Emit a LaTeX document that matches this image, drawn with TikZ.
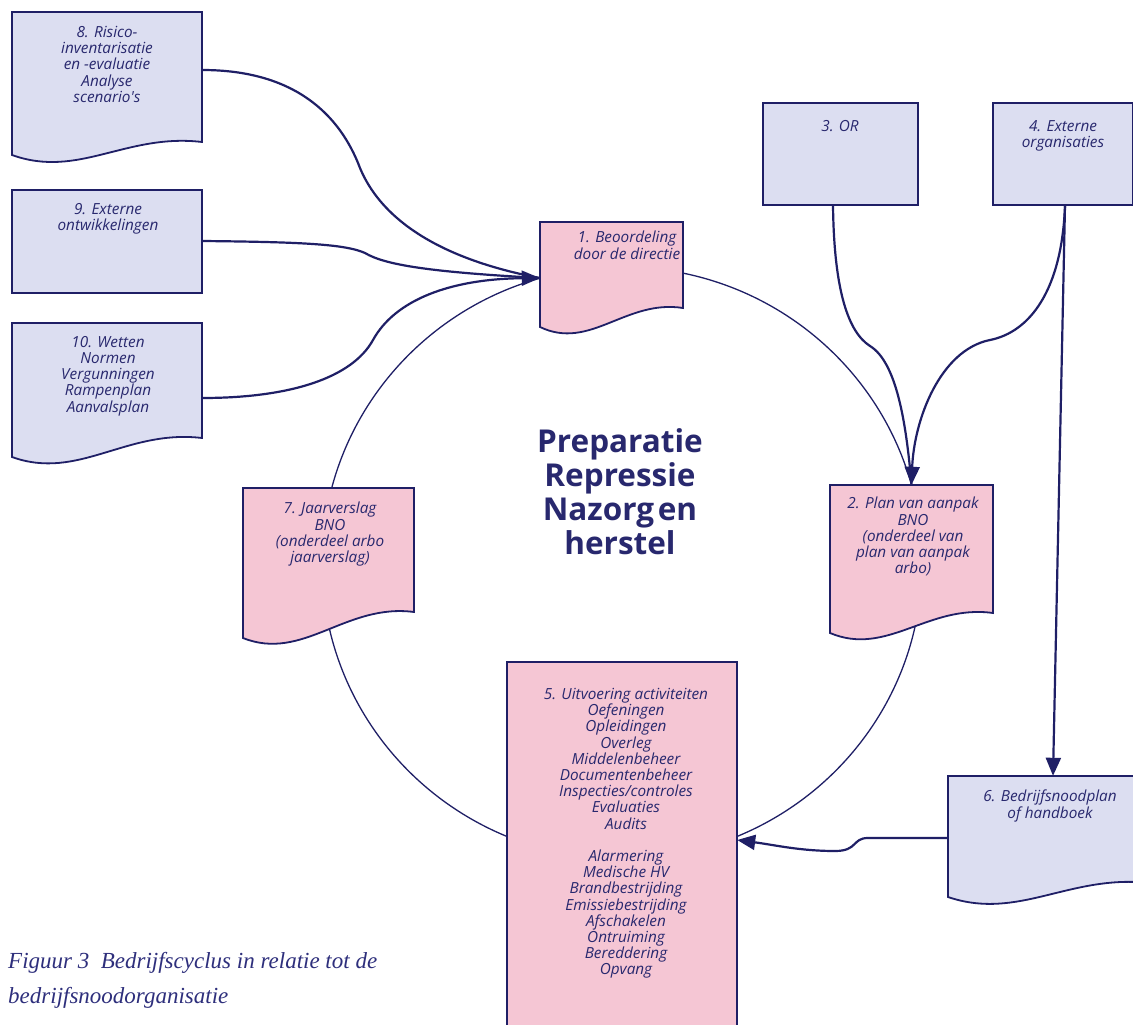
\documentclass[tikz,border=0pt]{standalone}
\usepackage{fontspec}
\setmainfont{Liberation Serif}
\newfontfamily\boxfont{Open Sans}
\usetikzlibrary{arrows.meta}
\definecolor{navy}{HTML}{1F1F66}
\definecolor{textnavy}{HTML}{28286E}
\definecolor{capnavy}{HTML}{2E2F7C}
\definecolor{bluefill}{HTML}{DCDEF1}
\definecolor{pinkfill}{HTML}{F5C6D4}
% x1,y1,x2,yl,yr,fill
\newcommand\docshape[6]{%
  \filldraw[boxline, fill=#6] (#1,#2) -- (#3,#2) -- (#3,#5)
    .. controls ({#1+0.6*(#3-#1)},{#5-9}) and ({#1+0.35*(#3-#1)},{#4+24}) .. (#1,#4) -- cycle;}
\tikzset{
  boxline/.style={draw=navy, line width=1.8pt, line join=miter},
  area/.style={inner sep=0pt, draw=none, fill=none},
  btext/.style={font=\boxfont\itshape\fontsize{15.3}{16.2}\selectfont, text=textnavy, align=center, inner sep=0pt, anchor=north},
  conn/.style={draw=navy, line width=2.2pt},
  arr/.style={conn, -{Triangle[length=18pt,width=15pt]}},
  cycleline/.style={draw=navy, line width=1.3pt}
}
\begin{document}
\begin{tikzpicture}[x=1pt,y=-1pt]
\useasboundingbox (0,0) rectangle (1133,1025);
\fill[white] (0,0) rectangle (1133,1025);
\clip (0,0) rectangle (1133,1025);

% cycle
\draw[cycleline] (622,563) ellipse [x radius=300, y radius=296];

% box shapes
\docshape{12}{12}{202}{155}{142}{bluefill}
\filldraw[boxline, fill=bluefill] (12,190) rectangle (202,293);
\docshape{12}{323}{202}{457}{438}{bluefill}
\docshape{540}{222}{683}{327}{308}{pinkfill}
\filldraw[boxline, fill=bluefill] (763,103) rectangle (918,205);
\filldraw[boxline, fill=bluefill] (993,103) rectangle (1133,205);
\docshape{830}{485}{993}{633}{613}{pinkfill}
\docshape{243}{488}{414}{638}{612}{pinkfill}
\filldraw[boxline, fill=pinkfill] (507,662) rectangle (737,1040);
\docshape{948}{776}{1150}{897}{883}{bluefill}

% box areas (named)
\node[area, minimum width=190, minimum height=143] (b8) at (107,83.5) {};
\node[area, minimum width=190, minimum height=103] (b9) at (107,241.5) {};
\node[area, minimum width=190, minimum height=134] (b10) at (107,390) {};
\node[area, minimum width=143, minimum height=100] (b1) at (611.5,272) {};
\node[area, minimum width=155, minimum height=102] (b3) at (840.5,154) {};
\node[area, minimum width=140, minimum height=102] (b4) at (1063,154) {};
\node[area, minimum width=163, minimum height=140] (b2) at (911.5,555) {};
\node[area, minimum width=171, minimum height=140] (b7) at (328.5,558) {};
\node[area, minimum width=230, minimum height=360] (b5) at (622,842) {};
\node[area, minimum width=202, minimum height=114] (b6) at (1049,833) {};

% texts
\node[btext] (t8) at (107,26) {8. Risico-\\inventarisatie\\en -evaluatie\\Analyse\\scenario's};
\node[btext] (t9) at (108,203) {9. Externe\\ontwikkelingen};
\node[btext] (t10) at (108,336) {10. Wetten\\Normen\\Vergunningen\\Rampenplan\\Aanvalsplan};
\node[btext] (t1) at (627,231) {1. Beoordeling\\door de directie};
\node[btext] (t3) at (840,120) {3. OR};
\node[btext] (t4) at (1063,120) {4. Externe\\organisaties};
\node[btext] (t2) at (913,497) {2. Plan van aanpak\\BNO\\(onderdeel van\\plan van aanpak\\arbo)};
\node[btext] (t7) at (330,502) {7. Jaarverslag\\BNO\\(onderdeel arbo\\jaarverslag)};
\node[btext] (t5) at (626,688) {5. Uitvoering activiteiten\\Oefeningen\\Opleidingen\\Overleg\\Middelenbeheer\\Documentenbeheer\\Inspecties/controles\\Evaluaties\\Audits\\[16.2pt]Alarmering\\Medische HV\\Brandbestrijding\\Emissiebestrijding\\Afschakelen\\Ontruiming\\Bereddering\\Opvang};
\node[btext] (t6) at (1050,790) {6. Bedrijfsnoodplan\\of handboek};

\node[font=\boxfont\bfseries\fontsize{31.5}{34}\selectfont, text=textnavy, align=center, inner sep=0pt, anchor=north] (ctr) at (620,428) {Preparatie\\Repressie\\Nazorg\hspace{0.12em}en\\herstel};

\node[font=\itshape\fontsize{23}{35}\selectfont, text=capnavy, align=left, inner sep=0pt, anchor=north west] (cap) at (8,952) {Figuur 3\ \ Bedrijfscyclus in relatie tot de\\bedrijfsnoodorganisatie};

% connection points
\coordinate (tip1) at ([yshift=-6pt]b1.west);
\coordinate (tip2) at (b2.north);
\coordinate (tip5) at ([yshift=2pt]b5.east);
\coordinate (o4) at ([xshift=2pt]b4.south);

% connectors into box 1
\draw[conn] ([yshift=13.5pt]b8.east) .. controls (295,70) and (340,115) .. (360,168)
   .. controls (385,228) and (455,262) .. (tip1);
\draw[conn] ([yshift=0.5pt]b9.east) .. controls (300,242) and (345,244) .. (365,253)
   .. controls (385,265) and (430,272) .. (tip1);
\draw[arr] ([yshift=-8pt]b10.east) .. controls (290,398) and (352,378) .. (373,340)
   .. controls (395,300) and (450,279) .. (tip1);

% connectors into box 2
\draw[conn] ([xshift=-7.5pt]b3.south) .. controls (834,290) and (848,332) .. (870,346)
   .. controls (896,362) and (906,420) .. (tip2);
\draw[arr] (o4) .. controls (1062,290) and (1030,332) .. (990,340)
   .. controls (940,350) and (914,420) .. (tip2);

% box 4 to box 6
\draw[arr] (o4) -- ([xshift=4pt]b6.north);

% box 6 to box 5
\draw[arr] ([yshift=-5pt]b6.west) -- (868,838) .. controls (852,838) and (858,851) .. (835,851)
   .. controls (800,851) and (775,845) .. (tip5);
\end{tikzpicture}
\end{document}
